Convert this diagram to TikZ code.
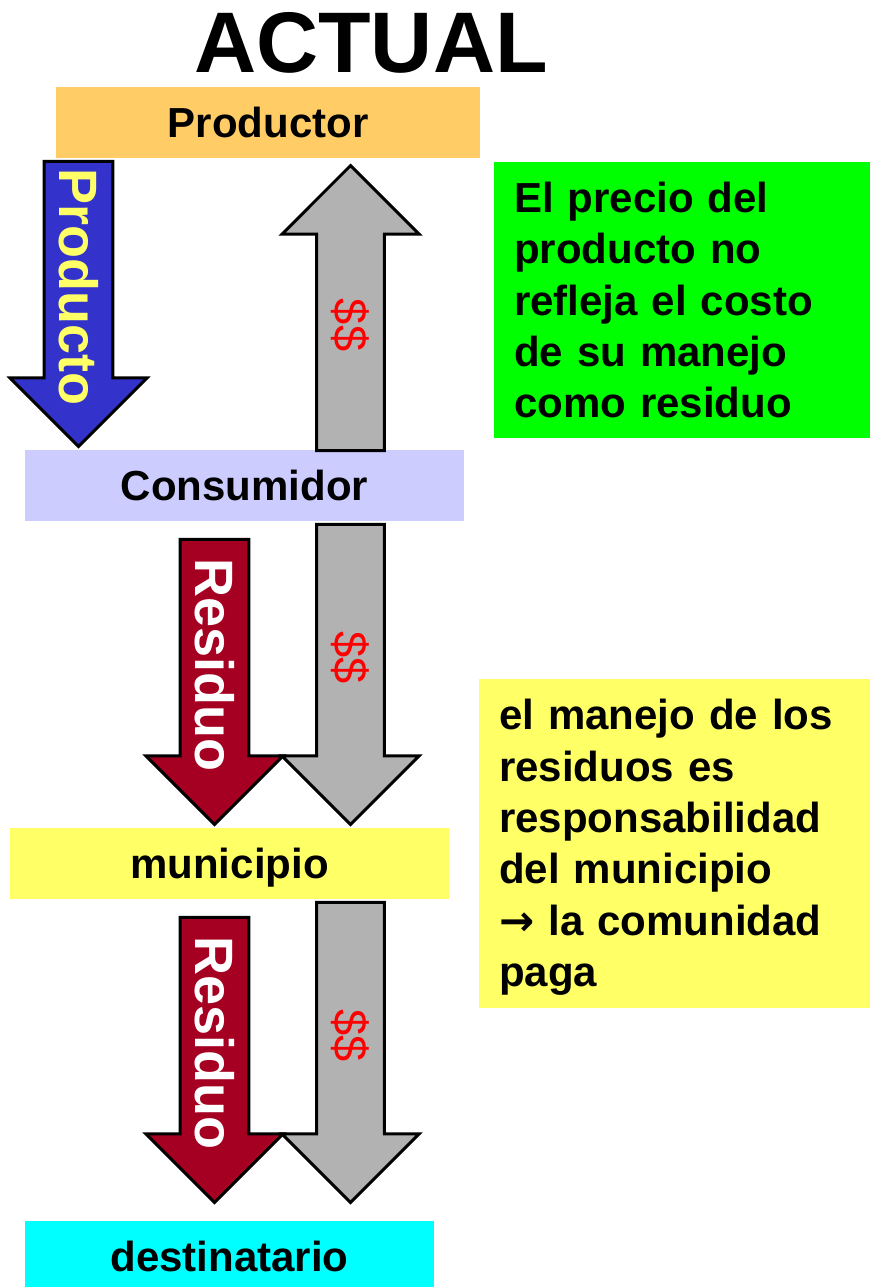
\documentclass[tikz,border=0pt]{standalone}
\usepackage{fontspec}
\setmainfont{Liberation Sans}
\newfontfamily\arrowsymbol{DejaVu Sans}
\usetikzlibrary{shapes.arrows,positioning}
\definecolor{productorora}{RGB}{255,204,102}
\definecolor{consumidorlila}{RGB}{204,204,255}
\definecolor{municipioyellow}{RGB}{255,255,102}
\definecolor{destinocyan}{RGB}{0,255,255}
\definecolor{notegreen}{RGB}{0,255,0}
\definecolor{productoblue}{RGB}{51,51,204}
\definecolor{residuored}{RGB}{165,0,33}
\definecolor{dinerogray}{RGB}{178,178,178}
\definecolor{dollarred}{RGB}{255,0,0}

\begin{document}
\begin{tikzpicture}[
    x=1pt,y=-1pt,
    actor/.style={draw=none,font=\fontsize{42}{50}\selectfont\bfseries,minimum height=71pt,inner sep=0pt,text depth=0pt},
    note/.style={draw=none,font=\fontsize{42}{51.25}\selectfont\bfseries,align=left,inner xsep=20pt,inner ysep=0pt,anchor=north west},
    flow/.style={single arrow,draw=black,line width=3pt,single arrow head extend=23pt,minimum width=137pt,minimum height=285pt,inner sep=2pt,rotate=-90,anchor=tip},
    goods/.style={flow,font=\fontsize{54}{54}\selectfont\bfseries},
    money/.style={flow,fill=dinerogray,text=dollarred,font=\fontsize{47}{47}\selectfont},
]
\useasboundingbox (0,0) rectangle (870,1287);

% Title
\node[draw=none,font=\fontsize{86}{86}\selectfont\bfseries] (title) at (371,43) {ACTUAL};

% Actors in the chain
\node[actor,fill=productorora,minimum width=424pt] (productor) at (268,122.5) {Productor};
\node[actor,fill=consumidorlila,minimum width=439pt] (consumidor) at (244.5,485.5) {Consumidor};
\node[actor,fill=municipioyellow,minimum width=439pt] (municipio) at (229.5,863.5) {municipio};
\node[actor,fill=destinocyan,minimum width=409pt] (destinatario) at (229.5,1256.5) {destinatario};

% Notes
\node[note,fill=notegreen,text width=336pt,minimum height=276pt] (precio) at (494,162) {El precio del\\producto no\\refleja el costo\\de su manejo\\como residuo};
\node[note,fill=municipioyellow,text width=351pt,minimum height=329pt,font=\fontsize{42}{51.4}\selectfont\bfseries] (comunidad) at (479,679) {\rule{0pt}{38pt}el manejo de los\\residuos es\\responsabilidad\\del municipio\\{\arrowsymbol →} la comunidad\\paga};

% Flows
\node[goods,fill=productoblue,text=municipioyellow] (producto) at (78.5,448.5) {Producto};
\node[money,shape border rotate=180,anchor=tip] (pago1) at (350.5,163.5) {\$\$};

\node[goods,fill=residuored,text=white] (residuo1) at (214.5,826.5) {Residuo};
\node[money,minimum height=300pt] (pago2) at (350.5,826.5) {\$\$};

\node[goods,fill=residuored,text=white] (residuo2) at (214.5,1204.5) {Residuo};
\node[money,minimum height=300pt] (pago3) at (350.5,1204.5) {\$\$};

\end{tikzpicture}
\end{document}
